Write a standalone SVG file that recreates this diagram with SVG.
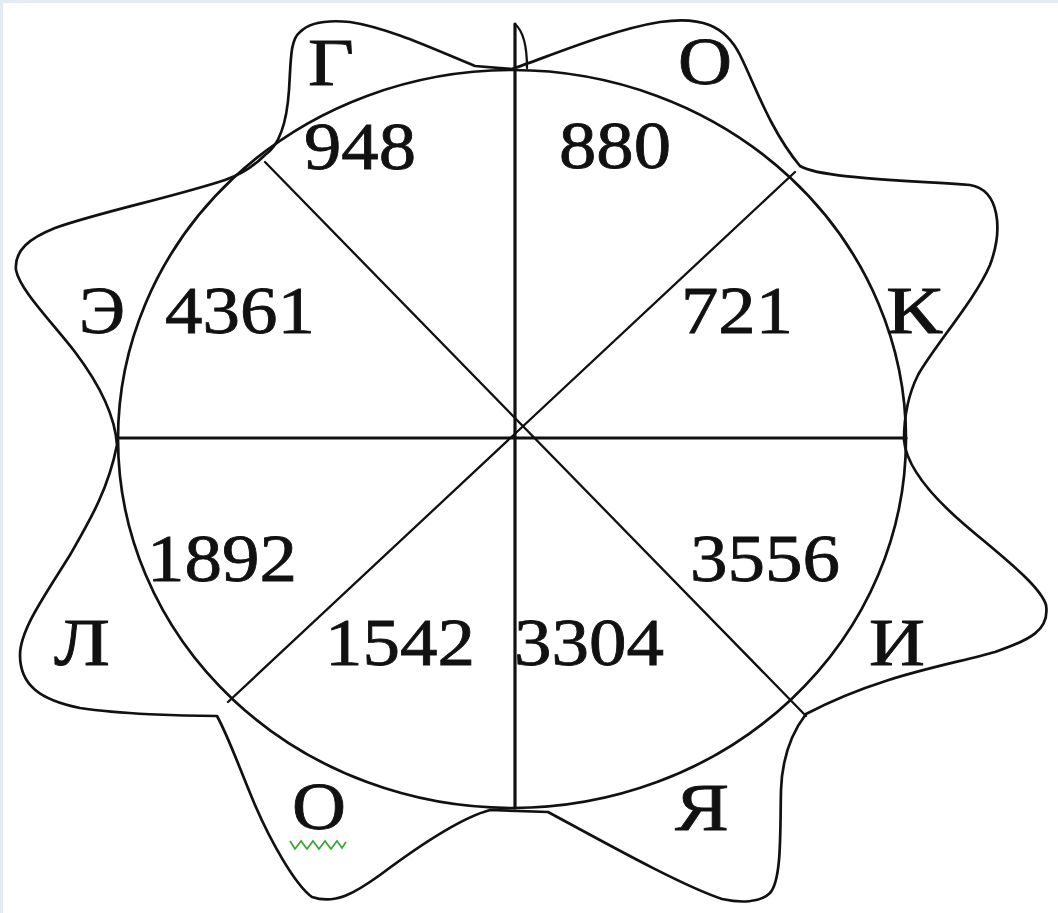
<svg xmlns="http://www.w3.org/2000/svg" width="1058" height="913" viewBox="0 0 1058 913">
<style>
.ln{fill:none;stroke:#111;stroke-linecap:round;stroke-linejoin:round}
.thick{stroke-width:3.2}
.thin{stroke-width:2.3}
.curve{stroke-width:2.7}
.lbl{font-family:"Liberation Serif","Times New Roman",serif;font-size:67px;fill:#111;stroke:#111;stroke-width:0.8}
</style>
<rect x="0" y="0" width="1058" height="913" fill="#ffffff"/>
<g id="frame">
<line x1="0" y1="1.5" x2="1058" y2="1.5" stroke="#e4ebf2" stroke-width="3"/>
<line x1="1.5" y1="0" x2="1.5" y2="913" stroke="#e4ebf2" stroke-width="3"/>
</g>
<g id="star-outline">
<path class="ln curve" d="M512,69 C545,58 610,30 660,22 C700,16 725,25 740,55 C755,85 770,130 800,166 C820,178 900,180 970,185 C1000,190 1003,230 990,265 C975,300 935,345 918,375 C908,395 904,420 904,440 C906,465 930,495 965,525 C1000,555 1040,585 1046,605 C1050,630 1030,640 995,652 C950,665 880,675 806,714 C790,735 782,760 781,790 C780,830 782,880 770,893 C760,903 740,903 722,899 C680,885 600,840 548,812 L490,810 C460,818 420,845 380,875 C355,893 335,905 312,897 C295,885 270,840 255,805 C240,770 230,740 217,716 C180,716 120,714 80,708 C40,700 20,685 20,655 C20,630 45,595 70,555 C90,520 108,490 117,445 C115,415 100,385 75,352 C50,320 20,290 16,270 C14,250 30,238 55,228 C100,212 170,198 225,180 C240,175 255,165 265,155 C280,145 287,120 289,90 C291,60 290,40 300,32 C310,22 330,20 350,22 C390,28 440,52 475,66 Z"/>
</g>
<g id="circle">
<ellipse class="ln curve" cx="512" cy="439" rx="394" ry="369"/>
</g>
<g id="connectors">
<line class="ln thick" x1="515" y1="24" x2="515" y2="808"/>
<path class="ln thin" d="M515,24 C522,30 527,45 527,68"/>
<line class="ln thick" x1="118" y1="438" x2="906" y2="438"/>
<line class="ln thin" x1="265" y1="162" x2="806" y2="716"/>
<line class="ln thin" x1="795" y1="172" x2="228" y2="702"/>
</g>
<g id="labels">
<g id="sector-948"><text class="lbl" x="304" y="169" textLength="112" lengthAdjust="spacingAndGlyphs">948</text></g>
<g id="sector-880"><text class="lbl" x="559" y="168" textLength="112" lengthAdjust="spacingAndGlyphs">880</text></g>
<g id="sector-4361"><text class="lbl" x="165" y="333" textLength="150" lengthAdjust="spacingAndGlyphs">4361</text></g>
<g id="sector-721"><text class="lbl" x="681" y="333" textLength="112" lengthAdjust="spacingAndGlyphs">721</text></g>
<g id="sector-1892"><text class="lbl" x="147" y="581" textLength="150" lengthAdjust="spacingAndGlyphs">1892</text></g>
<g id="sector-3556"><text class="lbl" x="690" y="581" textLength="150" lengthAdjust="spacingAndGlyphs">3556</text></g>
<g id="sector-1542"><text class="lbl" x="325" y="665" textLength="150" lengthAdjust="spacingAndGlyphs">1542</text></g>
<g id="sector-3304"><text class="lbl" x="514" y="665" textLength="150" lengthAdjust="spacingAndGlyphs">3304</text></g>
<g id="letter-G"><text class="lbl" x="308" y="85" textLength="46" lengthAdjust="spacingAndGlyphs">Г</text></g>
<g id="letter-O-top"><text class="lbl" x="678" y="84" textLength="54" lengthAdjust="spacingAndGlyphs">О</text></g>
<g id="letter-E"><text class="lbl" x="79" y="333" textLength="46" lengthAdjust="spacingAndGlyphs">Э</text></g>
<g id="letter-K"><text class="lbl" x="886" y="333" textLength="56" lengthAdjust="spacingAndGlyphs">К</text></g>
<g id="letter-L"><text class="lbl" x="54" y="665" textLength="56" lengthAdjust="spacingAndGlyphs">Л</text></g>
<g id="letter-I"><text class="lbl" x="869" y="665" textLength="56" lengthAdjust="spacingAndGlyphs">И</text></g>
<g id="letter-O-bottom"><text class="lbl" x="292" y="829" textLength="54" lengthAdjust="spacingAndGlyphs">О</text></g>
<g id="letter-Ya"><text class="lbl" x="675" y="830" textLength="54" lengthAdjust="spacingAndGlyphs">Я</text></g>
</g>
<g id="spell-squiggle">
<polyline fill="none" stroke="#3aa83a" stroke-width="1.8" points="290,841 295,849 301,841 307,849 313,841 319,849 325,841 331,849 337,841 342,848 346,842"/>
</g>
</svg>
